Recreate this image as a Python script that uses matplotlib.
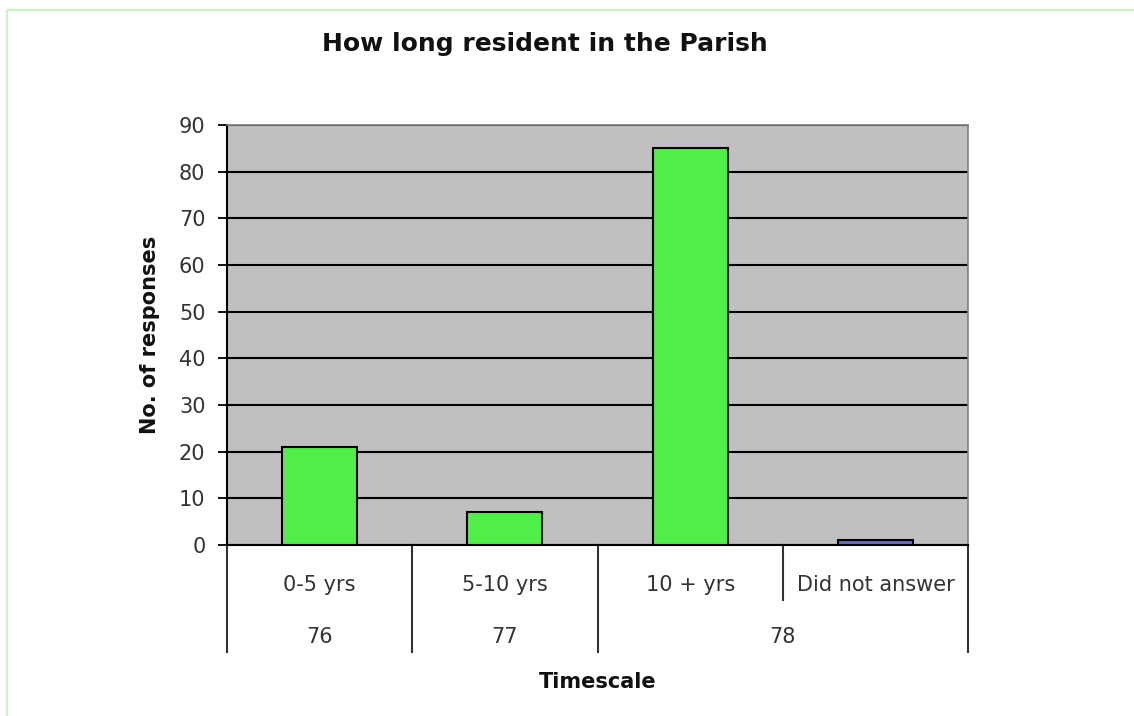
import matplotlib
matplotlib.use("Agg")
import matplotlib.pyplot as plt
from matplotlib.lines import Line2D
import matplotlib.transforms as mtransforms

plt.rcParams['font.family'] = ['DejaVu Sans']

categories = ["0-5 yrs", "5-10 yrs", "10 + yrs", "Did not answer"]
values = [21, 7, 85, 1]
bar_colors = ["#50EE48", "#50EE48", "#50EE48", "#6A6ACF"]
group_labels = ["76", "77", "78"]
group_spans = [(0, 0), (1, 1), (2, 3)]  # category index ranges for each group
yticks = [0, 10, 20, 30, 40, 50, 60, 70, 80, 90]

W, H = 1134, 716
fig = plt.figure(figsize=(W / 100, H / 100), dpi=100)
fig.patch.set_facecolor("white")

# light green frame (left + top visible)
fig.add_artist(Line2D([7 / W, 7 / W], [0, 1 - 10 / H], transform=fig.transFigure,
                      color="#C8F5C8", lw=1.5))
fig.add_artist(Line2D([7 / W, 1], [1 - 10 / H, 1 - 10 / H], transform=fig.transFigure,
                      color="#C8F5C8", lw=1.5))

x0, x1, ytop, ybot = 227, 968, 125, 545
ax = fig.add_axes([x0 / W, 1 - ybot / H, (x1 - x0) / W, (ybot - ytop) / H])
ax.set_facecolor("#C0C0C0")

xs = list(range(len(categories)))
ax.bar(xs, values, width=0.405, color=bar_colors, edgecolor="black", linewidth=1.5, zorder=3)

ax.set_xlim(-0.5, len(categories) - 0.5)
ax.set_ylim(0, 90)
ax.set_yticks(yticks)
ax.set_yticklabels([str(v) for v in yticks], fontsize=15, color="#333333")
ax.yaxis.grid(True, color="black", linewidth=1.5, zorder=1)
ax.set_axisbelow(True)
ax.tick_params(axis="y", direction="out", length=6.5, width=1.3, color="black", pad=9)
ax.set_xticks([])

for s in ["top", "right"]:
    ax.spines[s].set_color("#808080")
    ax.spines[s].set_linewidth(1.2)
ax.spines["left"].set_color("black")
ax.spines["left"].set_linewidth(1.5)
ax.spines["bottom"].set_color("black")
ax.spines["bottom"].set_linewidth(1.5)

def ay(py):
    return (ybot - py) / (ybot - ytop)

trans = mtransforms.blended_transform_factory(ax.transData, ax.transAxes)

# category separators
group_ends = set(g[1] for g in group_spans)
for i in range(len(categories) + 1):
    xb = i - 0.5
    if i == 0 or i == len(categories) or (i - 1) in group_ends:
        ylow = ay(652)
    else:
        ylow = ay(600)
    ax.add_line(Line2D([xb, xb], [0, ylow], transform=trans, color="#333333",
                       lw=1.5, clip_on=False))

for i, c in enumerate(categories):
    ax.text(i, ay(585), c, transform=trans, ha="center", va="center",
            fontsize=15, color="#333333")

for lab, (a, b) in zip(group_labels, group_spans):
    ax.text((a + b) / 2, ay(637), lab, transform=trans, ha="center", va="center",
            fontsize=15, color="#333333")

ax.text(1.5, ay(682), "Timescale", transform=trans, ha="center", va="center",
        fontsize=15, fontweight="bold", color="#111111")

fig.text(150 / W, 1 - 335 / H, "No. of responses", rotation=90, ha="center", va="center",
         fontsize=15, fontweight="bold", color="#111111")

fig.text(545 / W, 1 - 44 / H, "How long resident in the Parish", ha="center", va="center",
         fontsize=18, fontweight="bold", color="#111111")

fig.savefig("out.png", dpi=100, facecolor="white")
